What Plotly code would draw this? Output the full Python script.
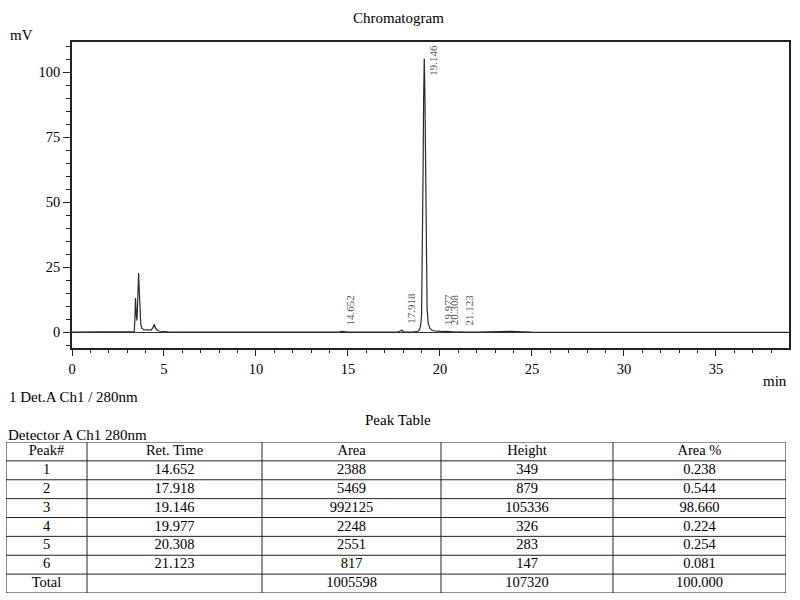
import plotly.graph_objects as go

# chromatogram trace (min, mV)
time_min = [0, 1, 2, 3, 3.3, 3.38, 3.42, 3.45, 3.49, 3.53, 3.57, 3.60, 3.62, 3.65,
            3.69, 3.74, 3.80, 3.9, 4.1, 4.3, 4.4, 4.47, 4.55, 4.65, 4.8, 5.2, 6, 8,
            10, 12, 14, 14.5, 14.652, 14.8, 15, 16, 17, 17.7, 17.85, 17.918, 18.0,
            18.2, 18.5, 18.7, 18.8, 18.9, 18.95, 19.0, 19.04, 19.08, 19.11, 19.146,
            19.18, 19.21, 19.25, 19.30, 19.36, 19.45, 19.6, 19.8, 19.977, 20.1,
            20.308, 20.5, 20.9, 21.123, 21.4, 22, 22.7, 23.2, 23.9, 24.5, 25, 27,
            30, 33, 36, 39]
signal_mv = [0.05, 0.05, 0.05, 0.05, 0.05, 0.3, 5, 13.2, 7, 4.5, 12, 20, 22.8, 17,
             8, 3, 1.6, 1.0, 0.9, 0.8, 1.8, 3.0, 1.5, 0.7, 0.4, 0.2, 0.1, 0.1,
             0.05, 0.05, 0.05, 0.05, 0.35, 0.1, 0.05, 0.05, 0.05, 0.05, 0.5, 0.88, 0.3,
             0.1, 0.1, 0.15, 0.4, 1.2, 2.8, 6.5, 25, 61, 89, 105.3,
             92, 65, 30, 9, 3.5, 1.5, 0.7, 0.4, 0.45, 0.3,
             0.35, 0.2, 0.1, 0.2, 0.05, 0.05, 0.2, 0.1, 0.35, 0.2, 0.05, 0.0,
             0.0, 0.0, 0.0, 0.0]

# peak table
headers = ["Peak#", "Ret. Time", "Area", "Height", "Area %"]
peak_no = ["1", "2", "3", "4", "5", "6", "Total"]
ret_time = ["14.652", "17.918", "19.146", "19.977", "20.308", "21.123", ""]
area = ["2388", "5469", "992125", "2248", "2551", "817", "1005598"]
height = ["349", "879", "105336", "326", "283", "147", "107320"]
area_pct = ["0.238", "0.544", "98.660", "0.224", "0.254", "0.081", "100.000"]

serif = "Liberation Serif, Times New Roman, serif"
ink = "#222222"

fig = go.Figure()

# ============================== >>> Chromatogram <<< ==============================
fig.add_trace(go.Scatter(
    x=time_min, y=signal_mv, mode="lines",
    line=dict(color="#2a2a2a", width=1.2),
    hoverinfo="skip", showlegend=False,
))

# peak labels, rotated like the instrument printout
for rt, h in zip(ret_time[:-1], height[:-1]):
    h_mv = float(h) / 1000
    fig.add_annotation(
        x=float(rt), y=h_mv, xref="x", yref="y",
        text=rt, textangle=-90, showarrow=False,
        xanchor="center", yanchor="bottom",
        xshift=8.5, yshift=-19 if h_mv > 50 else 4,
        font=dict(family=serif, size=11, color="#555555"),
    )

# ============================== >>> Peak table <<< ==============================
# table drawn on its own hidden axes: x in column-width units, y in rows
col_widths = [81, 175, 179, 172, 173]
edges = [0]
for w in col_widths:
    edges.append(edges[-1] + w)
n_rows = len(peak_no) + 1

columns = [peak_no, ret_time, area, height, area_pct]
for j, (head, vals) in enumerate(zip(headers, columns)):
    centre = (edges[j] + edges[j + 1]) / 2
    fig.add_trace(go.Scatter(
        x=[centre] * n_rows, y=[r + 0.5 for r in range(n_rows)],
        text=[head] + vals, mode="text", textposition="middle center",
        textfont=dict(family=serif, size=14.5, color="black"),
        xaxis="x2", yaxis="y2", hoverinfo="skip", showlegend=False,
        cliponaxis=False,
    ))

for e in edges:
    fig.add_shape(type="line", xref="x2", yref="y2", x0=e, x1=e, y0=0, y1=n_rows,
                  line=dict(color=ink, width=1))
for r in range(n_rows + 1):
    fig.add_shape(type="line", xref="x2", yref="y2", x0=0, x1=edges[-1], y0=r, y1=r,
                  line=dict(color=ink, width=1))

# ============================== >>> Text <<< ==============================
texts = [
    ("Chromatogram", 398, 18, "center"),
    ("mV", 8, 35, "left"),
    ("min", 789, 381, "right"),
    ("1 Det.A Ch1 / 280nm", 7, 397, "left"),
    ("Peak Table", 398, 420, "center"),
    ("Detector A Ch1 280nm", 6, 435, "left"),
]
for txt, px, py, anchor in texts:
    fig.add_annotation(
        x=px / 800, y=1 - py / 600, xref="paper", yref="paper",
        text=txt, showarrow=False, xanchor=anchor, yanchor="middle",
        font=dict(family=serif, size=15, color="black"),
    )

# ============================== >>> Layout <<< ==============================
fig.update_layout(
    width=800, height=600, autosize=False,
    margin=dict(l=0, r=0, t=0, b=0, autoexpand=False),
    paper_bgcolor="white", plot_bgcolor="white",
    showlegend=False,
    font=dict(family=serif, size=14, color="black"),
    xaxis=dict(
        domain=[72 / 800, 789 / 800], range=[0, 38.97],
        showgrid=False, zeroline=False,
        showline=True, linecolor=ink, linewidth=1.5, mirror=True,
        ticks="outside", ticklen=7, tickwidth=1, tickcolor=ink,
        dtick=5, tick0=0,
        minor=dict(dtick=1, ticks="outside", ticklen=4, tickcolor=ink),
        tickfont=dict(family=serif, size=14.5, color="black"),
    ),
    yaxis=dict(
        domain=[1 - 347.5 / 600, 1 - 42 / 600], range=[-5.85, 111.65],
        showgrid=False,
        zeroline=True, zerolinecolor="#333333", zerolinewidth=1,
        showline=True, linecolor=ink, linewidth=1.5, mirror=True,
        ticks="outside", ticklen=7, tickwidth=1, tickcolor=ink,
        dtick=25, tick0=0,
        minor=dict(dtick=5, ticks="outside", ticklen=4, tickcolor=ink),
        tickfont=dict(family=serif, size=14.5, color="black"),
    ),
    xaxis2=dict(domain=[6 / 800, 786 / 800], range=[0, edges[-1]],
                visible=False, anchor="y2"),
    yaxis2=dict(domain=[1 - 593 / 600, 1 - 442 / 600], range=[n_rows, 0],
                visible=False, anchor="x2"),
)

# drop the browser's default body margin so the 800x600 figure fills the window
fig.write_html("out.html", config={"displayModeBar": False},
               post_script="document.body.style.margin='0';")
